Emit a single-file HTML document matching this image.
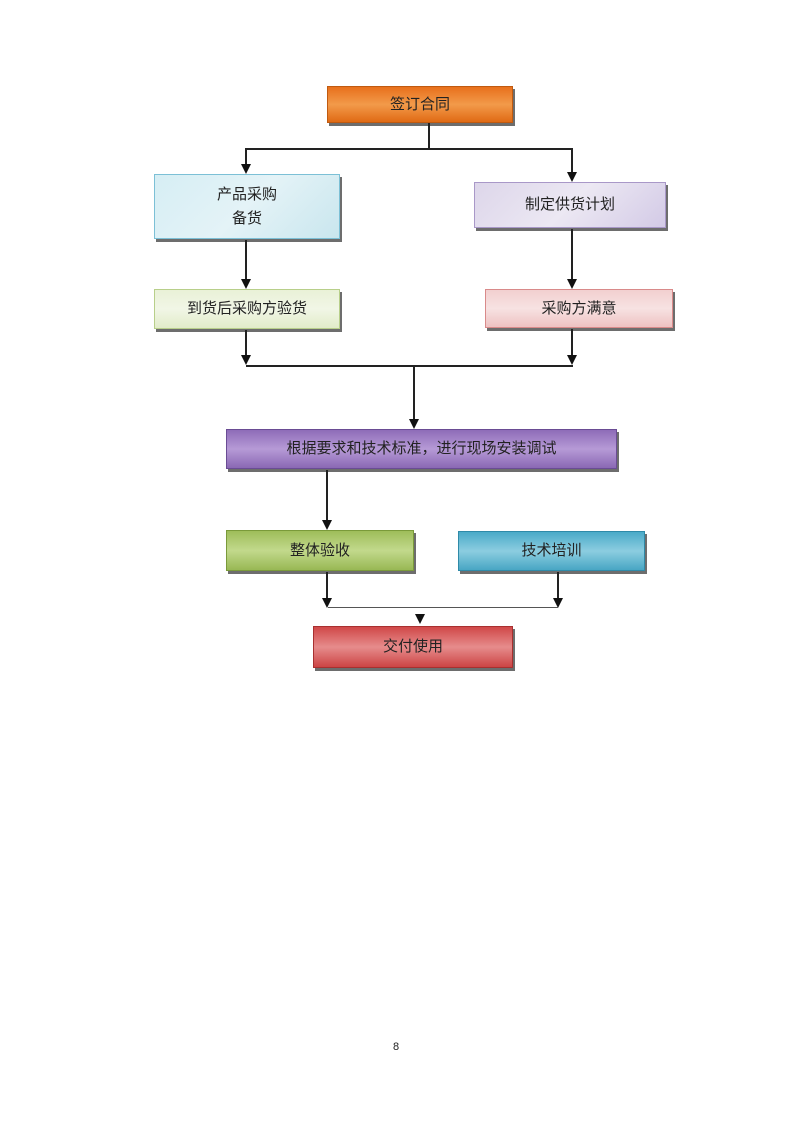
<!DOCTYPE html>
<html><head><meta charset="utf-8"><style>
body{margin:0;background:#fff;width:793px;height:1122px;position:relative;overflow:hidden;font-family:"Liberation Sans","Noto Sans CJK SC",sans-serif}
.b{position:absolute;box-sizing:border-box;display:flex;align-items:center;justify-content:center;text-align:center;font-size:15px;color:#222;line-height:24px;box-shadow:2px 3px 0 rgba(60,60,60,.75)}
.l{position:absolute;background:#222}
.a{position:absolute;width:0;height:0;border-left:5px solid transparent;border-right:5px solid transparent;border-top:10px solid #111}
</style></head><body>
<div class="b" style="left:327px;top:86px;width:186px;height:37px;background:linear-gradient(#e8701c,#f29a4a 50%,#e06a14);border:1px solid #c05a10">签订合同</div>
<div class="l" style="left:428px;top:123px;width:2px;height:27px"></div>
<div class="l" style="left:245px;top:148px;width:328px;height:2px"></div>
<div class="l" style="left:245px;top:148px;width:2px;height:18px"></div><div class="a" style="left:241px;top:164px"></div>
<div class="l" style="left:571px;top:148px;width:2px;height:26px"></div><div class="a" style="left:567px;top:172px"></div>
<div class="b" style="left:154px;top:174px;width:186px;height:65px;background:linear-gradient(135deg,#d6eef4,#e4f3f7 50%,#c9e6ee);border:1px solid #7cc0d6">产品采购<br>备货</div>
<div class="b" style="left:474px;top:182px;width:192px;height:46px;background:linear-gradient(135deg,#ddd6ea,#ece8f3 50%,#d3cae6);border:1px solid #a998c8">制定供货计划</div>
<div class="l" style="left:245px;top:240px;width:2px;height:40px"></div><div class="a" style="left:241px;top:279px"></div>
<div class="l" style="left:571px;top:229px;width:2px;height:51px"></div><div class="a" style="left:567px;top:279px"></div>
<div class="b" style="left:154px;top:289px;width:186px;height:40px;background:linear-gradient(#e9f1d7,#f1f6e6 50%,#e2ecc9);border:1px solid #b8cf8a">到货后采购方验货</div>
<div class="b" style="left:485px;top:289px;width:188px;height:39px;background:linear-gradient(#f2cfcf,#f7e2e2 50%,#eec2c2);border:1px solid #d98a8a">采购方满意</div>
<div class="l" style="left:245px;top:330px;width:2px;height:28px"></div><div class="a" style="left:241px;top:355px"></div>
<div class="l" style="left:571px;top:329px;width:2px;height:29px"></div><div class="a" style="left:567px;top:355px"></div>
<div class="l" style="left:246px;top:365px;width:327px;height:2px"></div>
<div class="l" style="left:413px;top:366px;width:2px;height:56px"></div><div class="a" style="left:409px;top:419px"></div>
<div class="b" style="left:226px;top:429px;width:391px;height:40px;background:linear-gradient(#8e6cb8,#b69ad6 50%,#8a68b4);border:1px solid #6a4c94">根据要求和技术标准，进行现场安装调试</div>
<div class="l" style="left:326px;top:470px;width:2px;height:52px"></div><div class="a" style="left:322px;top:520px"></div>
<div class="b" style="left:226px;top:530px;width:188px;height:41px;background:linear-gradient(#9ebd5a,#c2d98c 50%,#98b854);border:1px solid #7a9a3a">整体验收</div>
<div class="b" style="left:458px;top:531px;width:187px;height:40px;background:linear-gradient(#4aaac8,#8ccde0 50%,#48a6c4);border:1px solid #2f8aa8">技术培训</div>
<div class="l" style="left:326px;top:572px;width:2px;height:28px"></div><div class="a" style="left:322px;top:598px"></div>
<div class="l" style="left:557px;top:572px;width:2px;height:28px"></div><div class="a" style="left:553px;top:598px"></div>
<div class="l" style="left:328px;top:607px;width:230px;height:1px;background:#555"></div>
<div class="a" style="left:415px;top:614px"></div>
<div class="b" style="left:313px;top:626px;width:200px;height:42px;background:linear-gradient(#d04848,#e68c8c 50%,#cc4444);border:1px solid #a83030">交付使用</div>
<div style="position:absolute;left:393px;top:1041px;font-size:11px;color:#222">8</div>
</body></html>
